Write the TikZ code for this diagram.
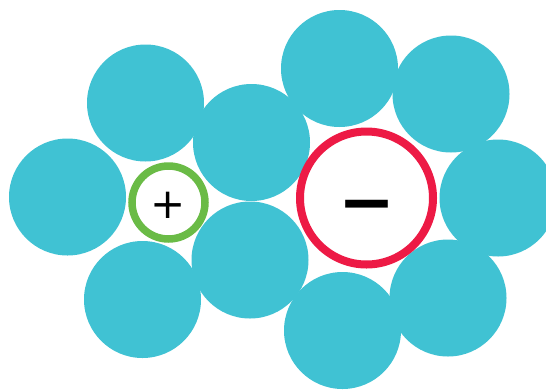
\documentclass[tikz,border=0pt]{standalone}
\usepackage{fontspec}
\newfontfamily\symfont{DejaVu Sans}
\definecolor{ballteal}{HTML}{40C2D3}
\definecolor{ringgreen}{HTML}{6ABB46}
\definecolor{ringred}{HTML}{ED1A45}
\tikzset{
  ball/.style={circle, fill=ballteal, draw=none, inner sep=0pt, minimum size=117pt},
  greenring/.style={circle, draw=ringgreen, fill=white, line width=7.5pt, inner sep=0pt, minimum size=73pt},
  redring/.style={circle, draw=ringred, fill=white, line width=8pt, inner sep=0pt, minimum size=133pt},
  signtext/.style={inner sep=0pt, text=black}
}
\begin{document}
\begin{tikzpicture}[x=1pt,y=-1pt]
\useasboundingbox (0,0) rectangle (546,389);
\node[ball] (b1) at (67.5,197) {};
\node[ball] (b2) at (145.5,103) {};
\node[ball] (b3) at (142.5,299.5) {};
\node[ball] (b4) at (251.5,142.5) {};
\node[ball] (b5) at (250,260) {};
\node[ball] (b6) at (339.5,68.5) {};
\node[ball] (b7) at (451,94) {};
\node[ball] (b8) at (498,198) {};
\node[ball] (b9) at (448,298) {};
\node[ball] (b10) at (342.5,330.5) {};
\node[greenring] (g) at (168.5,202.5) {};
\node[redring] (r) at (366.5,198) {};
\node[signtext, font=\symfont\fontsize{42}{42}\selectfont] (plus) at (168.5,205) {+};
\node[signtext, font=\symfont\bfseries\fontsize{68}{68}\selectfont] (minus) at (366.5,213) {−};
\end{tikzpicture}
\end{document}
